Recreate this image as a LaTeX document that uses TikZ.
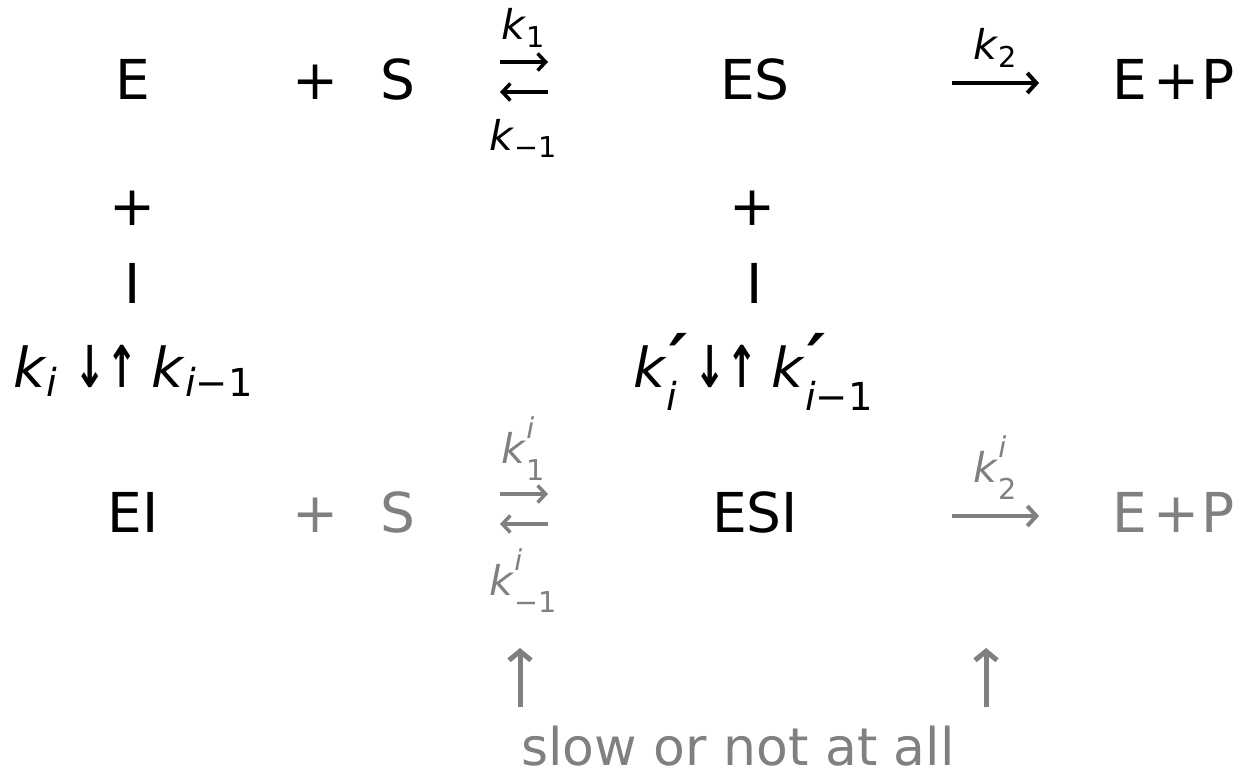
\documentclass[tikz,border=0pt]{standalone}
\usepackage{fontspec}
\setmainfont{DejaVu Sans}
\usepackage{graphicx}
\usetikzlibrary{arrows.meta}

% rate constants: k with lowered / raised indices
\newcommand\kk{\textit{k}}
\newcommand\lo[1]{\raisebox{-0.18em}{\scalebox{0.7}{#1}}}
\newcommand\hilo[2]{\rlap{\raisebox{0.6em}{\scalebox{0.7}{#1}}}\raisebox{-0.42em}{\scalebox{0.7}{#2}}}
\newcommand\pr{\rlap{\hspace{0.04em}\raisebox{0.06em}{\scalebox{1.25}{\textbf{\textit{′}}}}}}
\newcommand\dn{\scalebox{0.68}[1.05]{\bfseries ↓}}
\newcommand\up{\scalebox{0.68}[1.05]{\bfseries ↑}}

\begin{document}
\begin{tikzpicture}[x=1pt, y=-1pt,
    every node/.style={inner sep=0pt, font=\fontsize{55}{66}\selectfont},
    lbl/.style={font=\fontsize{41}{49}\selectfont},
    note/.style={font=\fontsize{52}{62}\selectfont},
    faded/.style={text=gray},
    rx/.style={line width=4pt, -{Straight Barb[length=9pt, width=20pt, line width=4pt]}},
    eqx/.style={line width=3.5pt, -{Straight Barb[length=8pt, width=17pt, line width=3.5pt]}},
    hint/.style={gray, line width=5pt, -{Straight Barb[length=9pt, width=22pt, line width=5pt]}}]

    \useasboundingbox (0,0) rectangle (1246,773);

    % --- Top reaction ---
    \node[anchor=base] (e)   at (133,100) {E};
    \node[anchor=base] (pa)  at (316,100) {+};
    \node[anchor=base] (s)   at (398,100) {S};
    \coordinate (fa) at (500,62);  \coordinate (fb) at (548,62);
    \coordinate (ba) at (548,92);  \coordinate (bb) at (500,92);
    \draw[eqx] (fa) -- (fb);
    \draw[eqx] (ba) -- (bb);
    \node[lbl, anchor=base] (k1)  at (523,40)  {\kk\lo{1}};
    \node[lbl, anchor=base] (km1) at (523,150) {\kk\lo{−1}};
    \node[anchor=base] (es)  at (755,100) {ES};
    \coordinate (k2a) at (952,83);
    \coordinate (k2b) at (1039,83);
    \draw[rx] (k2a) -- (k2b);
    \node[lbl, anchor=base] (k2) at (995,60) {\kk\lo{2}};
    \node[anchor=base] (ep)  at (1174,100) {E\hspace{0.1em}+\hspace{0.05em}P};

    % --- Inhibitor binding ---
    \node[anchor=base] (pl)  at (133,225) {+};
    \node[anchor=base] (il)  at (133,303) {I};
    \node[anchor=base] (kil) at (133,387) {\kk\lo{\textit{i}}\hspace{0.3em}\dn\hspace{0.02em}\up\hspace{0.25em}\kk\lo{\textit{i}−1}};
    \node[anchor=base] (pr)  at (753,225) {+};
    \node[anchor=base] (ir)  at (755,303) {I};
    \node[anchor=base] (kir) at (753,387) {\kk\pr\raisebox{-0.42em}{\scalebox{0.7}{\textit{i}}}\hspace{0.3em}\dn\hspace{0.02em}\up\hspace{0.25em}\kk\pr\raisebox{-0.42em}{\scalebox{0.7}{\textit{i}−1}}};

    % --- Inhibited reaction ---
    \node[anchor=base] (ei)  at (133,532) {EI};
    \node[faded, anchor=base] (pb) at (316,532) {+};
    \node[faded, anchor=base] (sb) at (398,532) {S};
    \coordinate (fia) at (500,494);  \coordinate (fib) at (548,494);
    \coordinate (bia) at (548,524);  \coordinate (bib) at (500,524);
    \draw[eqx, gray] (fia) -- (fib);
    \draw[eqx, gray] (bia) -- (bib);
    \node[lbl, faded, anchor=base] (k1i)  at (523,463) {\kk\hilo{\textit{i}}{1}};
    \node[lbl, faded, anchor=base] (km1i) at (523,595) {\kk\hilo{\textit{i}}{−1}};
    \node[anchor=base] (esi) at (755,532) {ESI};
    \coordinate (k2ia) at (952,516);
    \coordinate (k2ib) at (1039,516);
    \draw[rx, gray] (k2ia) -- (k2ib);
    \node[lbl, faded, anchor=base] (k2i) at (995,482) {\kk\hilo{\textit{i}}{2}};
    \node[faded, anchor=base] (epi) at (1174,532) {E\hspace{0.1em}+\hspace{0.05em}P};

    % --- Note ---
    \node[note, faded, anchor=base] (slow) at (738,765) {slow or not at all};
    \coordinate (ua) at (520,707);  \coordinate (ub) at (520,648);
    \coordinate (va) at (986,707);  \coordinate (vb) at (986,648);
    \draw[hint] (ua) -- (ub);
    \draw[hint] (va) -- (vb);

\end{tikzpicture}
\end{document}
